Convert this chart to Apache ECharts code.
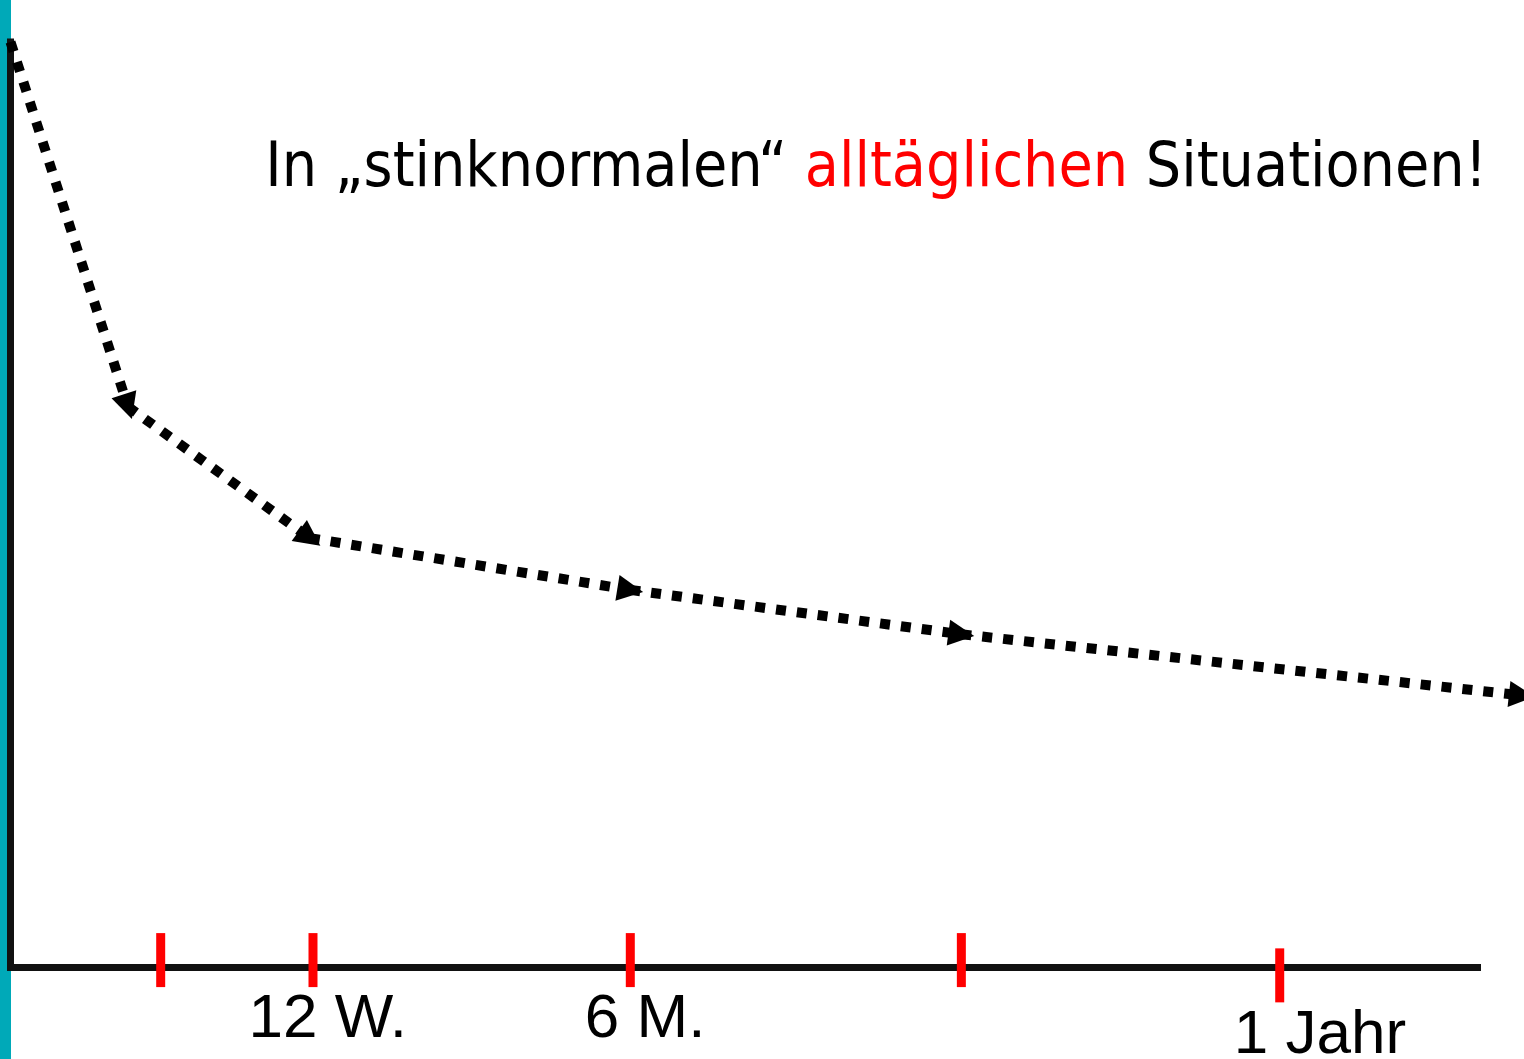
<!DOCTYPE html>
<html>
<head>
<meta charset="utf-8">
<script src="https://cdn.jsdelivr.net/npm/echarts@6/dist/echarts.min.js"></script>
<style>
  html, body { margin: 0; padding: 0; background: #fff; }
  #chart { width: 1524px; height: 1059px; }
</style>
</head>
<body>
<div id="chart"></div>
<script>
// path of the dotted curve (x in months, y in relative level)
var pathMonths = [0, 1.11, 2.83, 5.86, 8.99, 14.29];
var pathLevels = [100, 60.6, 46.4, 40.8, 36.0, 29.4];

// red tick marks on the time axis
var tickMonths = [1.42, 2.86, 5.86, 8.99, 12.0];
var tickLevels = [0.8, 0.8, 0.8, 0.8, -0.85];

// time labels under the axis
var labelTexts = ['12 W.', '6 M.', '1 Jahr'];
var labelMonths = [3.0, 6.0, 12.38];
var labelLevels = [-5.7, -5.7, -7.4];

var segments = [];
for (var i = 0; i < pathMonths.length - 1; i++) {
  segments.push({
    coords: [[pathMonths[i], pathLevels[i]], [pathMonths[i + 1], pathLevels[i + 1]]]
  });
}

var ticks = tickMonths.map(function (m, i) { return [m, tickLevels[i]]; });
var labels = labelMonths.map(function (m, i) {
  return { name: labelTexts[i], value: [m, labelLevels[i]] };
});

var axisStyle = {
  show: true,
  lineStyle: { color: '#111', width: 7, cap: 'square' }
};

var myChart = echarts.init(document.getElementById('chart'));
myChart.setOption({
  animation: false,
  grid: { left: 10.5, top: 42, right: 46.5, bottom: 91.5 },
  xAxis: {
    type: 'value', min: 0, max: 13.87,
    axisLine: axisStyle,
    axisTick: { show: false }, axisLabel: { show: false }, splitLine: { show: false }
  },
  yAxis: {
    type: 'value', min: 0, max: 100,
    axisLine: axisStyle,
    axisTick: { show: false }, axisLabel: { show: false }, splitLine: { show: false }
  },
  graphic: [{
    type: 'rect', z: -10,
    shape: { x: 0, y: 0, width: 11, height: 1059 },
    style: { fill: '#00A9B8' }
  }, {
    type: 'text', x: 1487, y: 170,
    style: {
      text: '{b|In \u201Estinknormalen\u201C }{r|allt\u00E4glichen}{b| Situationen!}',
      align: 'right', verticalAlign: 'middle',
      rich: {
        b: { fill: '#000', color: '#000', fontSize: 62, fontFamily: 'DejaVu Sans Condensed' },
        r: { fill: '#f00', color: '#f00', fontSize: 62, fontFamily: 'DejaVu Sans Condensed' }
      }
    }
  }],
  series: [{
    type: 'lines',
    coordinateSystem: 'cartesian2d',
    clip: false,
    z: 5,
    data: segments,
    symbol: ['none', 'triangle'],
    symbolSize: 26,
    lineStyle: { color: '#000', width: 10, type: [10, 11], cap: 'butt', opacity: 1, curveness: 0 }
  }, {
    type: 'scatter',
    clip: false,
    z: 4,
    data: ticks,
    symbol: 'rect',
    symbolSize: [9, 54],
    itemStyle: { color: '#ff0000', opacity: 1 },
    silent: true
  }, {
    type: 'scatter',
    clip: false,
    data: labels,
    symbolSize: 0,
    itemStyle: { opacity: 1 },
    label: {
      show: true, position: 'inside',
      formatter: '{b}',
      color: '#000', opacity: 1, fontSize: 62, fontFamily: 'Liberation Sans'
    },
    silent: true
  }]
});
</script>
</body>
</html>
